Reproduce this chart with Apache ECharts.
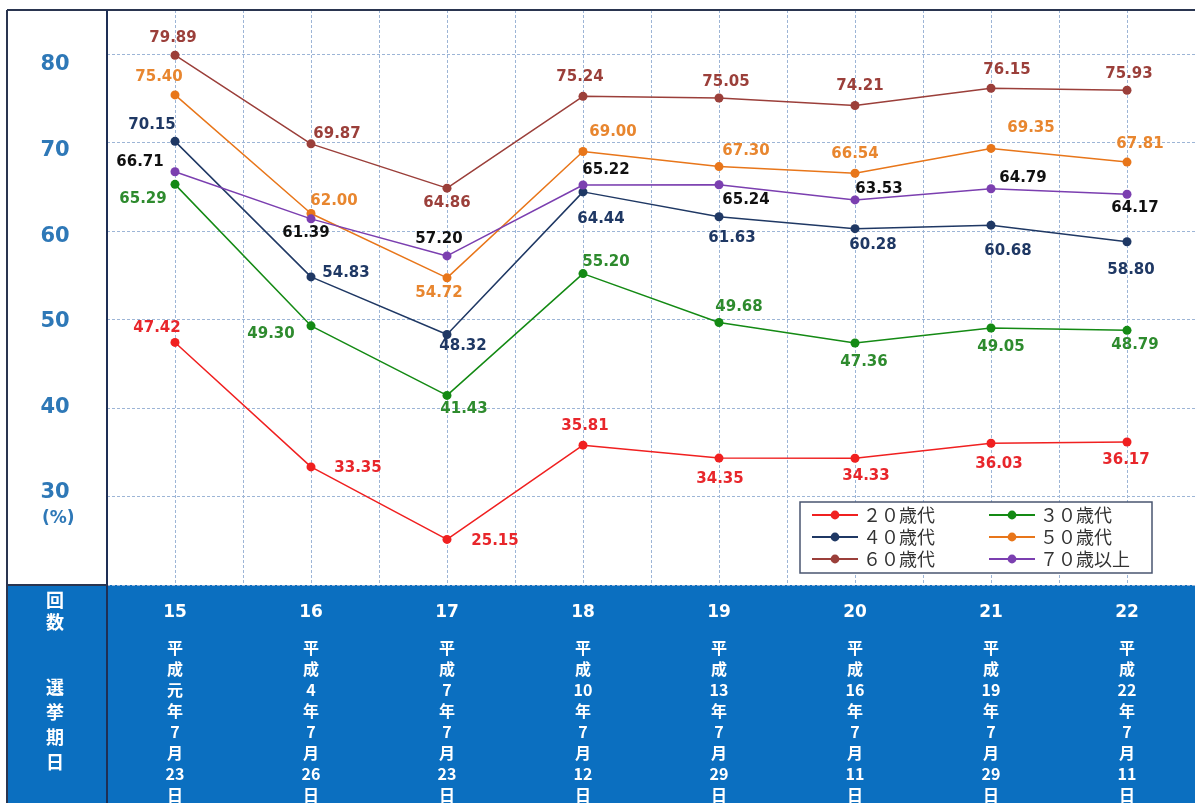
<!DOCTYPE html>
<html>
<head>
<meta charset="utf-8">
<script src="https://cdn.jsdelivr.net/npm/echarts@6/dist/echarts.min.js"></script>
<style>
html,body{margin:0;padding:0;background:#fff;}
#chart{width:1195px;height:803px;}
</style>
</head>
<body>
<div id="chart"></div>
<script>
// 回数・選挙期日
var rounds = ['15', '16', '17', '18', '19', '20', '21', '22'];
var dates = ['平成元年7月23日', '平成4年7月26日', '平成7年7月23日', '平成10年7月12日',
             '平成13年7月29日', '平成16年7月11日', '平成19年7月29日', '平成22年7月11日'];
// 年代別投票率(%)
var age20 = [47.42, 33.35, 25.15, 35.81, 34.35, 34.33, 36.03, 36.17];
var age30 = [65.29, 49.30, 41.43, 55.20, 49.68, 47.36, 49.05, 48.79];
var age40 = [70.15, 54.83, 48.32, 64.44, 61.63, 60.28, 60.68, 58.80];
var age50 = [75.40, 62.00, 54.72, 69.00, 67.30, 66.54, 69.35, 67.81];
var age60 = [79.89, 69.87, 64.86, 75.24, 75.05, 74.21, 76.15, 75.93];
var age70 = [66.71, 61.39, 57.20, 65.22, 65.24, 63.53, 64.79, 64.17];
var names = ['２０歳代', '３０歳代', '４０歳代', '５０歳代', '６０歳代', '７０歳以上'];
var yTicks = [30, 40, 50, 60, 70, 80];

// ラベルのずらし量 (点からの相対位置)
var off20 = [[-18,-14],[47,1],[48,2],[2,-19],[1,21],[11,18],[8,21],[-1,18]];
var off30 = [[-32,15],[-40,8],[17,14],[23,-12],[20,-15],[9,19],[10,19],[8,15]];
var off40 = [[-23,-16],[35,-4],[16,12],[18,27],[13,21],[18,16],[17,26],[4,28]];
var off50 = [[-16,-18],[23,-12],[-8,15],[30,-19],[27,-15],[0,-19],[40,-20],[13,-18]];
var off60 = [[-2,-17],[26,-10],[0,15],[-3,-19],[7,-16],[5,-19],[16,-18],[2,-16]];
var off70 = [[-35,-10],[-5,14],[-8,-17],[23,-15],[27,15],[24,-11],[32,-11],[8,14]];

var lineColors = ['#F02020', '#148A14', '#1F3864', '#E8761A', '#9B3F3A', '#7B3FB0'];
var labelColors = ['#E8262B', '#2E8B2E', '#1F3864', '#E8862F', '#9B3F3A', '#111111'];
var values = [age20, age30, age40, age50, age60, age70];
var offsets = [off20, off30, off40, off50, off60, off70];

var myChart = echarts.init(document.getElementById('chart'));

// 縦書きの日付
function vertical(s) {
  return s.match(/\d+|./g).map(function (c) { return '{d|' + c + '}'; }).join('\n');
}

var series = [];
for (var k = 0; k < names.length; k++) {
  series.push({
    name: names[k],
    type: 'line',
    symbol: 'circle',
    symbolSize: 9,
    itemStyle: { color: lineColors[k] },
    lineStyle: { width: 1.5, color: lineColors[k] },
    label: {
      show: true,
      position: 'inside',
      color: labelColors[k],
      fontFamily: 'DejaVu Sans',
      fontWeight: 'bold',
      fontSize: 15,
      formatter: function (p) { return p.value.toFixed(2); }
    },
    data: values[k].map(function (v, i) {
      return { value: v, label: { offset: offsets[k][i] } };
    })
  });
}

var gridLine = { show: true, lineStyle: { color: '#9DB5D6', type: [3, 2], width: 1 } };
var legendText = { fontSize: 18, color: '#333', fontFamily: 'Noto Sans CJK JP' };

var option = {
  animation: false,
  grid: { left: 107, top: 10, right: -3, bottom: 218 },
  xAxis: [{
    type: 'category',
    data: rounds,
    boundaryGap: true,
    axisLine: { show: false },
    axisTick: { show: false },
    splitLine: { show: false },
    axisLabel: {
      interval: 0,
      margin: 3,
      color: '#fff',
      fontFamily: 'Noto Sans CJK JP',
      fontWeight: 'bold',
      formatter: function (v, i) { return '{n|' + v + '}\n' + vertical(dates[i]); },
      rich: {
        n: { fontSize: 17, lineHeight: 49, color: '#fff', fontWeight: 'bold', fontFamily: 'DejaVu Sans' },
        d: { fontSize: 16, lineHeight: 21, color: '#fff', fontWeight: 'bold', fontFamily: 'Noto Sans CJK JP' }
      }
    }
  }, {
    type: 'value',
    min: 0, max: 16, interval: 1,
    position: 'bottom',
    axisLine: { show: false }, axisTick: { show: false }, axisLabel: { show: false },
    splitLine: gridLine
  }],
  yAxis: [{
    type: 'value',
    min: 20, max: 85, interval: 10,
    axisLine: { show: false }, axisTick: { show: false }, axisLabel: { show: false },
    splitLine: gridLine
  }, {
    type: 'value',
    min: 19.25, max: 86.4,
    position: 'left',
    axisLine: { show: false }, axisTick: { show: false }, splitLine: { show: false },
    axisLabel: {
      customValues: yTicks,
      align: 'center',
      margin: 52,
      color: '#2E78B7',
      fontFamily: 'DejaVu Sans',
      fontWeight: 'bold',
      fontSize: 21,
      formatter: function (v) { return yTicks.indexOf(v) >= 0 ? String(v) : ''; }
    }
  }],
  legend: [{
    orient: 'vertical',
    left: 806, top: 501,
    itemWidth: 46, itemHeight: 11, itemGap: 4,
    data: [names[0], names[2], names[4]],
    textStyle: legendText
  }, {
    orient: 'vertical',
    left: 983, top: 501,
    itemWidth: 46, itemHeight: 11, itemGap: 4,
    data: [names[1], names[3], names[5]],
    textStyle: legendText
  }],
  graphic: [
    { type: 'rect', z: -1, shape: { x: 7, y: 585, width: 1190, height: 220 }, style: { fill: '#0B6FC0' } },
    { type: 'rect', z: 3, shape: { x: 800, y: 502, width: 352, height: 71 }, style: { fill: '#fff', stroke: '#4A5670', lineWidth: 1.5 } },
    { type: 'line', z: 5, shape: { x1: 7, y1: 10, x2: 1195, y2: 10 }, style: { stroke: '#2A3550', lineWidth: 2 } },
    { type: 'line', z: 5, shape: { x1: 7, y1: 10, x2: 7, y2: 803 }, style: { stroke: '#2A3550', lineWidth: 2 } },
    { type: 'line', z: 5, shape: { x1: 107, y1: 10, x2: 107, y2: 803 }, style: { stroke: '#1E2F55', lineWidth: 2 } },
    { type: 'line', z: 5, shape: { x1: 7, y1: 585, x2: 107, y2: 585 }, style: { stroke: '#2A3550', lineWidth: 2 } },
    { type: 'text', left: 42, top: 510, style: { text: '(%)', fill: '#2E78B7', font: 'bold 17px "DejaVu Sans"' } },
    { type: 'text', z: 5, style: { text: '回\n数', x: 55, y: 611, align: 'center', verticalAlign: 'middle', lineHeight: 22, fill: '#fff', font: 'bold 18px "Noto Sans CJK JP"' } },
    { type: 'text', z: 5, style: { text: '選\n挙\n期\n日', x: 55, y: 725, align: 'center', verticalAlign: 'middle', lineHeight: 25, fill: '#fff', font: 'bold 18px "Noto Sans CJK JP"' } }
  ],
  series: series
};
myChart.setOption(option);
</script>
</body>
</html>
